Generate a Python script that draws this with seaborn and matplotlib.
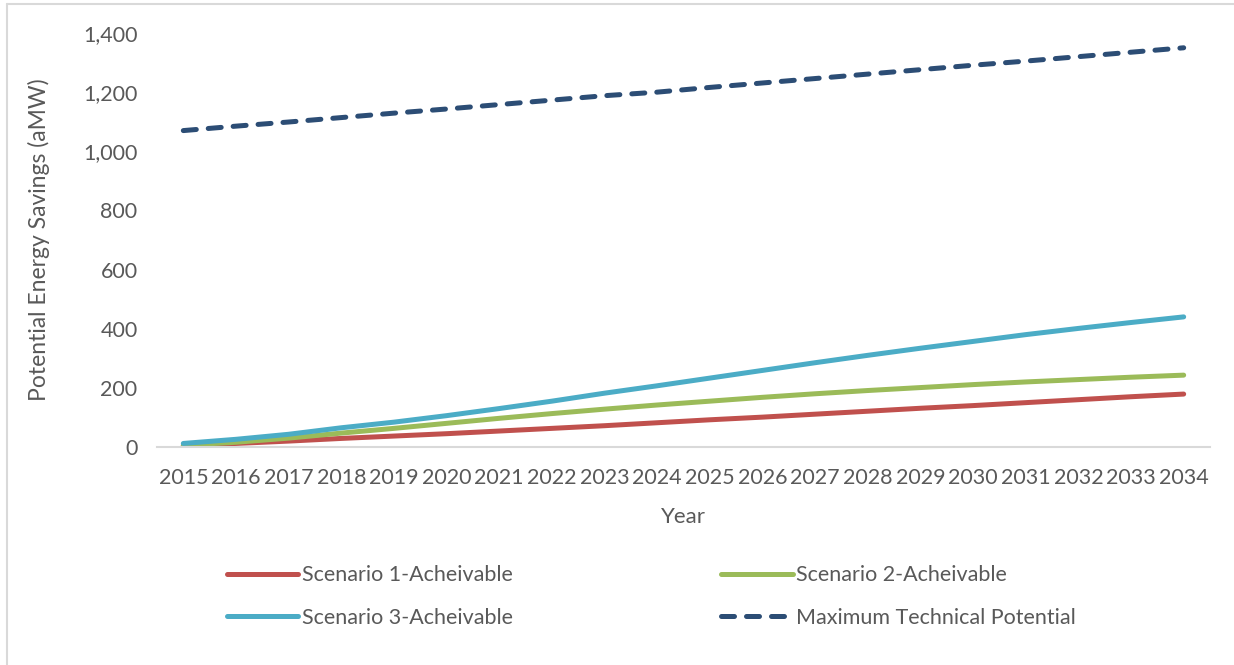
import matplotlib
matplotlib.use("Agg")
import matplotlib.pyplot as plt
from matplotlib.lines import Line2D
from matplotlib.ticker import FuncFormatter
import seaborn as sns
import pandas as pd

years = list(range(2015, 2035))
scenario_1 = [5, 12, 20, 29, 37, 45, 54, 63, 72, 82, 92, 101, 111, 121, 131, 140, 150, 160, 170, 179]
scenario_2 = [6, 16, 30, 47, 63, 80, 97, 113, 128, 142, 155, 168, 180, 191, 201, 211, 220, 228, 236, 243]
scenario_3 = [12, 26, 43, 65, 84, 106, 130, 155, 182, 207, 233, 259, 285, 310, 334, 357, 380, 401, 421, 440]
max_technical = [1070, 1085, 1099, 1114, 1129, 1143, 1158, 1173, 1188, 1200, 1216, 1231, 1246, 1261, 1276, 1291, 1305, 1320, 1335, 1350]

series_names = ["Scenario 1-Acheivable", "Scenario 2-Acheivable",
                "Scenario 3-Acheivable", "Maximum Technical Potential"]
series_values = [scenario_1, scenario_2, scenario_3, max_technical]
colors = ["#C0504D", "#9BBB59", "#4BACC6", "#2C4D75"]

df = pd.concat(
    [pd.DataFrame({"Year": years, "Savings": vals, "Series": name})
     for name, vals in zip(series_names, series_values)],
    ignore_index=True,
)

sns.set_theme(style="white")
plt.rcParams["font.family"] = ["Lato", "DejaVu Sans"]
text_color = "#595959"

fig = plt.figure(figsize=(12.34, 6.65), dpi=100)
ax = fig.add_axes([157 / 1234, 1 - 447 / 665, (1210 - 157) / 1234, (447 - 33) / 665])

lw = 3.6
dash = (2.6, 2.4)
sns.lineplot(data=df, x="Year", y="Savings", hue="Series", hue_order=series_names,
             palette=colors, ax=ax, linewidth=lw, legend=False,
             solid_capstyle="round")
ax.lines[3].set_dashes(dash)
ax.lines[3].set_dash_capstyle("round")

ax.set_xlim(2014.5, 2034.5)
ax.set_ylim(0, 1400)
ax.set_xticks(years)
ax.set_xticklabels([str(y) for y in years])
ax.set_yticks(range(0, 1401, 200))
ax.yaxis.set_major_formatter(FuncFormatter(lambda v, p: f"{int(v):,}"))
ax.tick_params(axis="both", length=0, labelsize=15.5, labelcolor=text_color)
ax.tick_params(axis="x", pad=15)
ax.tick_params(axis="y", pad=14)

for side in ["top", "right", "left"]:
    ax.spines[side].set_visible(False)
ax.spines["bottom"].set_color("#D9D9D9")
ax.spines["bottom"].set_linewidth(1.5)

ax.set_xlabel("Year", fontsize=16, color=text_color, labelpad=14)
ax.set_ylabel("Potential Energy Savings (aMW)", fontsize=16.5, color=text_color, labelpad=24)

handles = {}
for name, c in zip(series_names, colors):
    h = Line2D([], [], color=c, linewidth=lw, solid_capstyle="round")
    if name.startswith("Maximum"):
        h.set_dashes(dash)
        h.set_dash_capstyle("round")
    handles[name] = h

# legend fills column by column: row 1 = scenarios 1 and 2, row 2 = scenario 3 and max
legend_order = [series_names[0], series_names[2], series_names[1], series_names[3]]
fig.legend([handles[n] for n in legend_order], legend_order, loc="upper left",
           bbox_to_anchor=(208 / 1234, 1 - 546 / 665),
           ncol=2, frameon=False, fontsize=15.5, handlelength=3.3, handletextpad=0.15,
           columnspacing=9.7, labelspacing=1.05, labelcolor=text_color)

# outer frame lines
fig.add_artist(Line2D([7 / 1234, 1], [1 - 4 / 665, 1 - 4 / 665], color="#D9D9D9", linewidth=1.5))
fig.add_artist(Line2D([7 / 1234, 7 / 1234], [0, 1 - 4 / 665], color="#D9D9D9", linewidth=1.5))

fig.savefig("out.png", dpi=100)
